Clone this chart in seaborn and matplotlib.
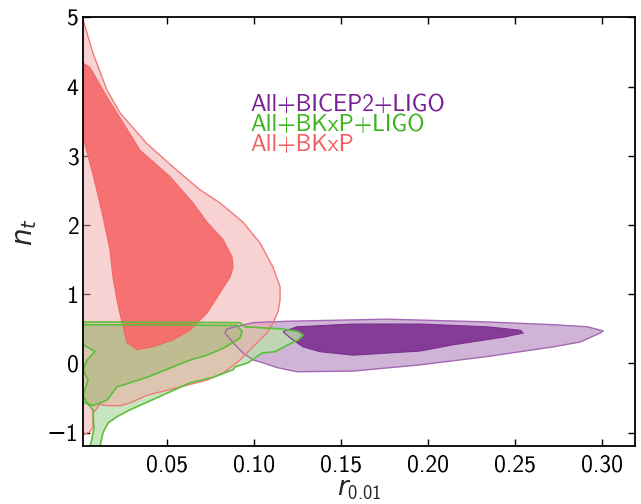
"""n_t vs r_0.01 contour comparison (BICEP2 / BKxP / LIGO)."""
import matplotlib
matplotlib.use("Agg")
import matplotlib.pyplot as plt
import seaborn as sns

# contour outlines, (r_0.01, n_t)
purple_outer_r = [0.0864, 0.0996, 0.1191, 0.1766, 0.2341, 0.2720, 0.2916, 0.3008, 0.2990,
                  0.2875, 0.2720, 0.2341, 0.1956, 0.1571, 0.1249, 0.1134, 0.1053, 0.0996,
                  0.0939, 0.0881, 0.0835, 0.0847]
purple_outer_n = [0.51, 0.59, 0.61, 0.64, 0.60, 0.56, 0.53, 0.47, 0.44,
                  0.31, 0.24, 0.10, -0.02, -0.11, -0.12, -0.06, 0.01, 0.05,
                  0.15, 0.30, 0.44, 0.50]
purple_inner_r = [0.1168, 0.1249, 0.1571, 0.1956, 0.2341, 0.2531, 0.2548, 0.2433, 0.2146,
                  0.1956, 0.1766, 0.1571, 0.1381, 0.1283, 0.1209]
purple_inner_n = [0.46, 0.53, 0.57, 0.57, 0.53, 0.48, 0.44, 0.38, 0.27,
                  0.18, 0.15, 0.12, 0.17, 0.24, 0.37]

green_outer_r = [0.0, 0.0921, 0.0950, 0.1082, 0.1163, 0.1255, 0.1283, 0.1255, 0.1197,
                 0.1122, 0.1048, 0.1007, 0.0967, 0.0893, 0.0881, 0.0766, 0.0634, 0.0502,
                 0.0387, 0.0289, 0.0214, 0.0163, 0.0134, 0.0117, 0.0112, 0.0052, 0.0059,
                 0.0070, 0.0076, 0.0082, 0.0076, 0.0048, 0.0]
green_outer_n = [0.60, 0.59, 0.53, 0.51, 0.50, 0.46, 0.41, 0.34, 0.27,
                 0.17, 0.15, 0.08, 0.01, -0.05, -0.09, -0.20, -0.28, -0.43,
                 -0.56, -0.67, -0.77, -0.86, -1.00, -1.20, -1.35, -1.35, -1.20,
                 -1.10, -1.00, -0.95, -0.67, -0.59, -0.53]
green_inner_r = [0.0, 0.0904, 0.0933, 0.0921, 0.0881, 0.0824, 0.0732, 0.0634, 0.0536,
                 0.0387, 0.0214, 0.0157, 0.0076, 0.0042, 0.0019, 0.0048, 0.0019, 0.0042,
                 0.0088, 0.0042, 0.0]
green_inner_n = [0.56, 0.55, 0.46, 0.37, 0.30, 0.22, 0.12, 0.05, -0.05,
                 -0.20, -0.34, -0.53, -0.61, -0.57, -0.46, -0.24, -0.09, 0.05,
                 0.17, 0.24, 0.30]

red_outer_r = [0.0, 0.0019, 0.0025, 0.0076, 0.0157, 0.0232, 0.0385, 0.0536, 0.0691,
               0.0806, 0.0939, 0.1036, 0.1111, 0.1151, 0.1151, 0.1140, 0.1111, 0.1076,
               0.1019, 0.0921, 0.0824, 0.0732, 0.0576, 0.0387, 0.0289, 0.0232, 0.0157,
               0.0117, 0.0076, 0.0076, 0.0059, 0.0019, 0.0]
red_outer_n = [5.10, 4.99, 4.92, 4.49, 3.95, 3.62, 3.18, 2.84, 2.51,
               2.32, 2.04, 1.74, 1.39, 1.11, 0.92, 0.75, 0.59, 0.44,
               0.30, 0.05, -0.14, -0.24, -0.34, -0.46, -0.57, -0.61, -0.61,
               -0.59, -0.72, -0.92, -0.99, -1.03, -1.03]
red_inner_r = [0.0, 0.0019, 0.0059, 0.0157, 0.0249, 0.0347, 0.0519, 0.0651, 0.0732,
               0.0824, 0.0875, 0.0881, 0.0864, 0.0806, 0.0732, 0.0634, 0.0536, 0.0421,
               0.0329, 0.0272, 0.0243, 0.0214, 0.0191, 0.0174, 0.0134, 0.0080, 0.0019, 0.0]
red_inner_n = [4.34, 4.34, 4.28, 3.85, 3.48, 3.08, 2.70, 2.32, 2.04,
               1.79, 1.54, 1.39, 1.25, 1.02, 0.73, 0.48, 0.34, 0.24,
               0.20, 0.30, 0.59, 0.92, 1.25, 1.64, 2.12, 2.70, 3.27, 3.27]

labels = ["All+BICEP2+LIGO", "All+BKxP+LIGO", "All+BKxP"]
label_colors = ["#7a2096", "#3cb41c", "#f25f5f"]
xticks = [0.05, 0.10, 0.15, 0.20, 0.25, 0.30]
yticks = [-1, 0, 1, 2, 3, 4, 5]

sns.set_style("ticks")
plt.rcParams["font.family"] = ["cmss10", "DejaVu Sans"]
plt.rcParams["mathtext.fontset"] = "custom"
plt.rcParams["mathtext.rm"] = "cmss10"
plt.rcParams["mathtext.it"] = "DejaVu Sans:italic"

fig = plt.figure(figsize=(6.41, 5.04), dpi=100)
ax = fig.add_axes([0.130, 0.1141, 0.8607, 0.8512])

# purple at the bottom
ax.fill(purple_outer_r, purple_outer_n, facecolor="#cfb4d8", edgecolor="none")
ax.fill(purple_inner_r, purple_inner_n, facecolor="#853c97", edgecolor="none")
# green, semi transparent
ax.fill(green_outer_r, green_outer_n, facecolor="#badfae", alpha=0.8, edgecolor="none")
ax.fill(green_inner_r, green_inner_n, facecolor="#7ece6a", alpha=0.8, edgecolor="none")
# red on top
ax.fill(red_outer_r, red_outer_n, facecolor="#f3a7a7", alpha=0.5, edgecolor="none")
ax.fill(red_inner_r, red_inner_n, facecolor="#f66e6e", alpha=0.97, edgecolor="none")

# outlines
ax.fill(purple_outer_r, purple_outer_n, facecolor="none", edgecolor="#a468b4", lw=1)
ax.fill(purple_inner_r, purple_inner_n, facecolor="none", edgecolor="#7a2f8c", lw=0.8)
ax.fill(red_outer_r, red_outer_n, facecolor="none", edgecolor="#f07a7a", lw=1)
ax.fill(red_inner_r, red_inner_n, facecolor="none", edgecolor="#f06868", lw=0.8)
ax.fill(green_outer_r, green_outer_n, facecolor="none", edgecolor="#5cbe3a", lw=1.2)
ax.fill(green_inner_r, green_inner_n, facecolor="none", edgecolor="#5cbe3a", lw=1.2)

ax.set_xlim(0.0021, 0.319)
ax.set_ylim(-1.20, 5.0)
ax.set_xticks(xticks)
ax.set_xticklabels([f"{t:.2f}" for t in xticks])
ax.set_yticks(yticks)
ax.set_yticklabels([f"{t}".replace("-", "\u2212") for t in yticks])
ax.tick_params(direction="in", length=5, width=1, labelsize=17, top=True, right=True,
               colors="black")
ax.tick_params(axis="x", pad=6)
for s in ax.spines.values():
    s.set_linewidth(1.3)
    s.set_color("black")

ax.set_xlabel(r"$r_{0.01}$", fontsize=19, labelpad=1)
ax.set_ylabel(r"$n_t$", fontsize=20, labelpad=6)

for i, (lab, col) in enumerate(zip(labels, label_colors)):
    ax.text(0.0979, 3.65 - 0.29 * i, lab, color=col, fontsize=17, va="baseline")

fig.savefig("out.png", dpi=100)
